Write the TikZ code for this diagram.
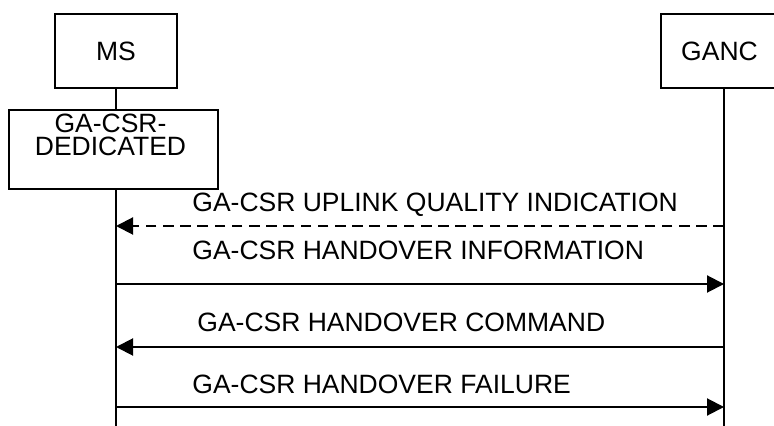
\documentclass[tikz,border=0pt]{standalone}
\usepackage{fontspec}
\setmainfont{Liberation Sans}
\usetikzlibrary{arrows.meta,positioning}
\tikzset{%
	entity/.style   = {draw, rectangle, line width=1pt, minimum width=61pt, minimum height=37pt, font=\fontsize{13.25}{15}\selectfont},
	state/.style    = {draw, rectangle, line width=1pt, minimum width=104.5pt, minimum height=39.5pt},
	waypoint/.style = {coordinate},
	lifeline/.style = {line width=1pt},
	msg/.style      = {line width=1pt, -{Triangle[length=8.5pt,width=8.5pt]}},
	msgtext/.style  = {anchor=base west, inner sep=0pt, font=\fontsize{13.25}{15}\selectfont},
}

\begin{document}
\begin{tikzpicture}[node distance=301.75pt]
	\useasboundingbox (0,0) rectangle (387pt,-213pt);
	\clip (0,0) rectangle (387pt,-213pt);
	\node [entity] (ms) at (58pt,-25.5pt) {MS};
	\node [entity, minimum width=58.5pt] (ganc) [right of=ms] {GANC};
	\node [state, label={[align=center, anchor=north, inner sep=0pt, yshift=-2.5pt, xshift=-1.5pt, font=\fontsize{13.25}{11}\selectfont]north:GA-CSR-\\[0.5pt]DEDICATED}] (ded) [below of=ms, node distance=49.25pt, xshift=-1.25pt] {};
	
	% lifelines
	\node [waypoint] (mstop) at (58pt,-44pt) {};
	\node [waypoint] (msmid) at (58pt,-55pt) {};
	\node [waypoint] (msbot) at (58pt,-94.5pt) {};
	\node [waypoint] (msend) at (58pt,-213pt) {};
	\node [waypoint] (ganctop) at (362pt,-44pt) {};
	\node [waypoint] (gancend) at (362pt,-213pt) {};
	\draw [lifeline] (mstop) -- (msmid);
	\draw [lifeline] (msbot) -- (msend);
	\draw [lifeline] (ganctop) -- (gancend);
	
	% message ends
	\node [waypoint] (m1) at (58pt,-113pt) {};
	\node [waypoint] (g1) at (362pt,-113pt) {};
	\node [waypoint] (m2) at (58pt,-142pt) {};
	\node [waypoint] (g2) at (362pt,-142pt) {};
	\node [waypoint] (m3) at (58pt,-173.5pt) {};
	\node [waypoint] (g3) at (362pt,-173.5pt) {};
	\node [waypoint] (m4) at (58pt,-203.5pt) {};
	\node [waypoint] (g4) at (362pt,-203.5pt) {};
	
	\draw [msg, dash pattern=on 5.3pt off 3.3pt] (g1) -- (m1);
	\draw [msg] (m2) -- (g2);
	\draw [msg] (g3) -- (m3);
	\draw [msg] (m4) -- (g4);
	
	\node [msgtext] (uplink) at (96pt,-106pt) {GA-CSR UPLINK QUALITY INDICATION};
	\node [msgtext] (hoinfo) at (96pt,-130pt) {GA-CSR HANDOVER INFORMATION};
	\node [msgtext] (hocmd) at (98.5pt,-166pt) {GA-CSR HANDOVER COMMAND};
	\node [msgtext] (hofail) at (96pt,-196.5pt) {GA-CSR HANDOVER FAILURE};
\end{tikzpicture}
\end{document}
